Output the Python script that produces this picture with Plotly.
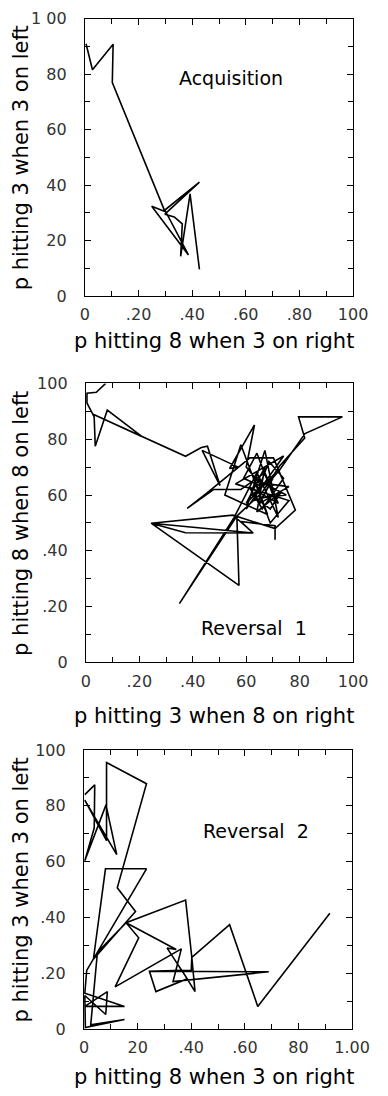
import plotly.graph_objects as go

# ---- data ----
acq_x = [0.4, 2.8, 10.5, 10.2, 29.8, 24.9, 38.6, 29.8, 42.7, 29.8, 33.3, 36.3, 35.7, 39.2, 42.7]
acq_y = [91, 81.6, 90.8, 77, 30.5, 32.4, 14.8, 31, 41.1, 29.5, 28.5, 26, 14.3, 36.8, 9.6]

rev1_x = [7.4, 3.9, 0.4, 0.4, 3.1, 3.5, 6.8, 8.0, 20.9, 2.5, 20.9, 37.3, 43.2, 45.5, 50.2, 43.5, 57, 53.8,
          63.1, 60, 66, 59, 64, 70, 63, 68.5, 74, 66, 61, 72, 67, 58, 47.9, 37.9, 45, 61.4, 70.2, 78.4,
          70.8, 55, 24.4, 62.6, 56, 66, 72.5, 81.9, 79.6, 96, 82, 72.5, 68, 76, 65, 70, 62, 69, 73, 64,
          67, 60, 71, 66, 75, 63, 68, 52, 58, 69, 76, 56, 74, 60, 67, 72, 64,
          55.5, 35, 56.5, 57.3, 24.4, 37.3, 62.6, 58, 70.8, 70.8]
rev1_y = [100, 96.8, 96.5, 93, 88, 77.5, 87, 90.4, 81, 89, 81, 73.9, 77, 77.5, 63.4, 76, 70, 69.5,
          85.1, 70, 63, 66, 75, 60, 58, 72, 66, 55, 63, 57, 68, 62, 62, 55.2, 60.5, 73.3, 73.3, 54.6,
          48, 52.8, 49.9, 46.4, 52, 61, 70.4, 80.4, 88, 88, 82, 69, 64, 63, 57, 66, 60, 55, 61, 54,
          70, 57, 68, 59, 60, 66, 53, 60, 78, 50, 58, 64, 74, 55, 76, 52, 68,
          52, 21.1, 52.5, 27.6, 49.9, 46.5, 46.4, 50.5, 49, 44]

rev2_x = [0.3, 4.0, 3.8, 0.3, 8.2, 12.2, 0.3, 8.4, 8.4, 23.3, 12.4, 19.2, 3.5, 8.0, 23.3, 1.0,
          0.3, 15.1, 0.3, 8.7, 8.1, 0.3, 0.5, 15.1, 2.5, 5.0, 15.7, 37.9, 40.2, 41.4, 36.5, 24.4,
          26.8, 38.5, 31, 34.4, 15.7, 20.4, 11.6, 36.3, 33.2, 68.9, 24.4, 40, 40.2, 54.3, 64.8, 91.7]
rev2_y = [84, 87.5, 72, 60.3, 80.3, 62.5, 82, 67.5, 95.5, 87.9, 50.6, 42.1, 25, 57.4, 57.4, 21,
          12.8, 8.1, 8.1, 13.4, 5.2, 12, 0.5, 3.4, 1.5, 27.5, 38.1, 46.2, 25.7, 13.4, 21, 20.7,
          13.4, 18, 29, 28.5, 38.1, 32.7, 15.1, 28.7, 17, 20.5, 20.7, 21, 25.7, 37.4, 8.1, 41.5]

tick_vals = [0, 20, 40, 60, 80, 100]
x_ticktext = [["0", ".20", ".40", ".60", ".80", "100"],
              ["0", ".20", ".40", "60", "80", "100"],
              ["0", "20", ".40", ".60", "80", "1.00"]]
y_ticktext = [["0", "20", "40", "60", "80", "1 00"],
              ["0", ".20", ".40", "60", "80", "100"],
              ["0", ".20", ".40", "60", "80", "100"]]
x_titles = ["p hitting 8 when 3 on right", "p hitting 3 when 8 on right", "p hitting 8 when 3 on right"]
y_titles = ["p hitting 3 when 3 on left", "p hitting 8 when 8 on left", "p hitting 3 when 3 on left"]
panel_labels = ["Acquisition", "Reversal  1", "Reversal  2"]
label_pos = [(54.4, 78.7), (63, 12.3), (64.1, 70.9)]

W, H = 388, 1096
# pixel boxes of the three plot areas: (left, right, top, bottom)
boxes = [(85, 370, 10, 292), (86, 370, 381, 665), (84, 369, 754, 1038)]
xtitle_y = [338, 719, 1087]

series = [(acq_x, acq_y), (rev1_x, rev1_y), (rev2_x, rev2_y)]

fig = go.Figure()
FONT = "DejaVu Sans"
layout = dict(width=W, height=H, margin=dict(l=0, r=0, t=0, b=0),
              paper_bgcolor="white", plot_bgcolor="white", showlegend=False,
              font=dict(family=FONT, color="black"))
annotations = []
for i, ((xs, ys), (l, r, t, b)) in enumerate(zip(series, boxes)):
    n = "" if i == 0 else str(i + 1)
    fig.add_trace(go.Scatter(x=xs, y=ys, mode="lines",
                             line=dict(color="black", width=1.6),
                             xaxis="x" + n, yaxis="y" + n, hoverinfo="skip"))
    axcommon = dict(range=[0, 100], showgrid=False, zeroline=False, showline=True,
                    linecolor="black", linewidth=1.2, mirror="ticks", ticks="inside",
                    ticklen=6, tickwidth=1, tickcolor="black", tickvals=tick_vals,
                    minor=dict(ticks="inside", ticklen=5, dtick=10, tickcolor="black"),
                    tickfont=dict(size=16, color="#333", family=FONT))
    layout["xaxis" + n] = dict(axcommon, domain=[l / W, r / W], anchor="y" + n,
                               ticktext=x_ticktext[i], ticklabelstandoff=4)
    layout["yaxis" + n] = dict(axcommon, domain=[1 - b / H, 1 - t / H], anchor="x" + n,
                               ticktext=y_ticktext[i], ticklabelstandoff=14)
    annotations.append(dict(text=x_titles[i], xref="paper", yref="paper",
                            x=222 / W, y=1 - xtitle_y[i] / H,
                            showarrow=False, font=dict(size=21, family=FONT),
                            xanchor="center", yanchor="middle"))
    annotations.append(dict(text=y_titles[i], xref="paper", yref="paper",
                            x=17 / W, y=1 - (t + b) / 2 / H, textangle=-90,
                            showarrow=False, font=dict(size=21, family=FONT),
                            xanchor="center", yanchor="middle"))
    annotations.append(dict(text=panel_labels[i], x=label_pos[i][0], y=label_pos[i][1],
                            xref="x" + n, yref="y" + n, showarrow=False,
                            font=dict(size=19, family=FONT)))
layout["annotations"] = annotations
fig.update_layout(**layout)
fig.write_html("out.html", config={"displayModeBar": False},
               post_script="document.body.style.margin='0';document.body.style.overflow='hidden';")
